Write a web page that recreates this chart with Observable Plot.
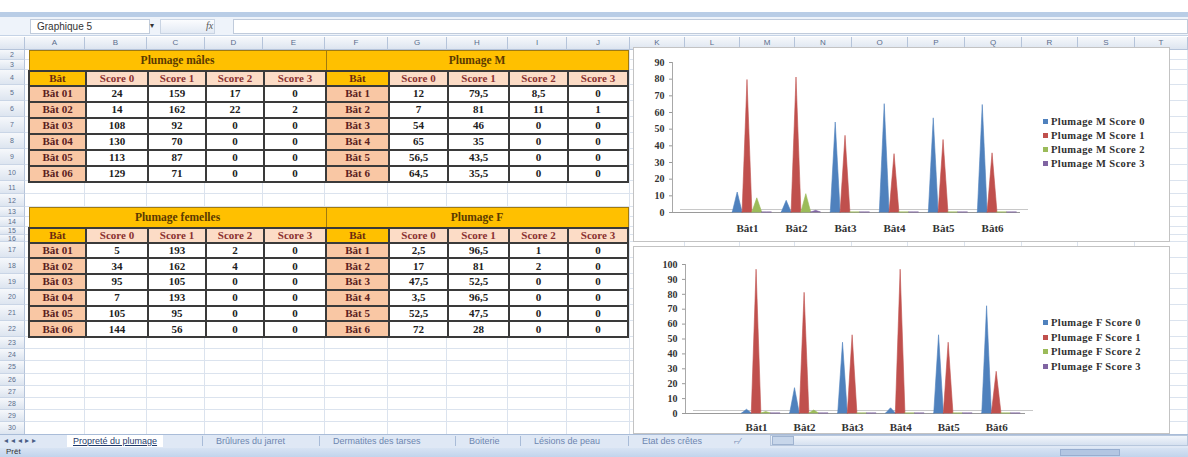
<!DOCTYPE html>
<html><head><meta charset="utf-8">
<script src="https://cdn.jsdelivr.net/npm/d3@7"></script>
<script src="https://cdn.jsdelivr.net/npm/@observablehq/plot@0.6"></script>
<style>
body{margin:0;width:1188px;height:457px;overflow:hidden;position:relative;background:#fff;font-family:"Liberation Sans",Arial,sans-serif;}
.a{position:absolute;box-sizing:border-box;}
.hdr{background:linear-gradient(#f6f8fb,#dde5f0);color:#5a6d8c;font-size:8px;text-align:center;}
table.t{position:absolute;border-collapse:collapse;table-layout:fixed;font-family:"Liberation Serif","Times New Roman",serif;font-weight:bold;font-size:11px;}
table.t td{border:2px solid #3a3a3a;text-align:center;padding:0;overflow:hidden;white-space:nowrap;line-height:11px;}
table.t td.ti{background:#FFC000;color:#5b3a00;border:1px solid #a07a10;font-size:11.5px;}
table.t td.hb{background:#FFC000;color:#6b2a10;}
table.t td.hs{background:#FCDCC6;color:#8a3030;}
table.t td.rb{background:#F9C7A4;color:#5a2020;}
table.t td.v{background:#fff;color:#202020;}
.lg{position:absolute;font-family:"Liberation Serif","Times New Roman",serif;font-weight:bold;font-size:10.5px;letter-spacing:0.4px;color:#303030;white-space:nowrap;}
.lg i{display:inline-block;width:5px;height:5px;margin-right:3px;vertical-align:1px;}
.tab{position:absolute;top:435px;height:12px;font-size:9px;color:#6d86b0;line-height:12px;white-space:nowrap;}
</style></head><body>
<script>
// ---------- data ----------
const tableTitles = ["Plumage mâles","Plumage M","Plumage femelles","Plumage F"];
const scoreLabels = ["Score 0","Score 1","Score 2","Score 3"];
const batLong = ["Bât 01","Bât 02","Bât 03","Bât 04","Bât 05","Bât 06"];
const batShort = ["Bât 1","Bât 2","Bât 3","Bât 4","Bât 5","Bât 6"];
const chartCats = ["Bât1","Bât2","Bât3","Bât4","Bât5","Bât6"];
const malesScore0 = [24,14,108,130,113,129];
const malesScore1 = [159,162,92,70,87,71];
const malesScore2 = [17,22,0,0,0,0];
const malesScore3 = [0,2,0,0,0,0];
const plumMScore0 = [12,7,54,65,56.5,64.5];
const plumMScore1 = [79.5,81,46,35,43.5,35.5];
const plumMScore2 = [8.5,11,0,0,0,0];
const plumMScore3 = [0,1,0,0,0,0];
const femScore0 = [5,34,95,7,105,144];
const femScore1 = [193,162,105,193,95,56];
const femScore2 = [2,4,0,0,0,0];
const femScore3 = [0,0,0,0,0,0];
const plumFScore0 = [2.5,17,47.5,3.5,52.5,72];
const plumFScore1 = [96.5,81,52.5,96.5,47.5,28];
const plumFScore2 = [1,2,0,0,0,0];
const plumFScore3 = [0,0,0,0,0,0];
const legendM = ["Plumage M Score 0","Plumage M Score 1","Plumage M Score 2","Plumage M Score 3"];
const legendF = ["Plumage F Score 0","Plumage F Score 1","Plumage F Score 2","Plumage F Score 3"];
const yTicksM = [0,10,20,30,40,50,60,70,80,90];
const yTicksF = [0,10,20,30,40,50,60,70,80,90,100];
const colLetters = ["A","B","C","D","E","F","G","H","I","J","K","L","M","N","O","P","Q","R","S","T"];
const sheetTabs = ["Propreté du plumage","Brûlures du jarret","Dermatites des tarses","Boiterie","Lésions de peau","Etat des crêtes"];
const colors = ["#4F81BD","#C0504D","#9BBB59","#8064A2"];

// ---------- helpers ----------
const body = document.body;
function div(cls, style, html){const d=document.createElement("div");d.className=cls;d.setAttribute("style",style);if(html!=null)d.innerHTML=html;body.appendChild(d);return d;}
const fmt = v => String(v).replace(".",",");

// ---------- excel chrome ----------
div("a","left:0;top:12px;width:1188px;height:5px;background:#b9cde6;");
div("a","left:0;top:17px;width:1188px;height:19px;background:#eef3fa;border-bottom:1px solid #c5d3e6;");
div("a","left:30px;top:19px;width:120px;height:15px;background:#fff;border:1px solid #c0cbdb;font-size:10px;color:#333;padding:1px 6px;","Graphique 5");
div("a","left:150px;top:21px;font-size:8px;color:#333;","▾");
div("a","left:160px;top:19px;width:55px;height:15px;background:linear-gradient(#fbfcfe,#e3eaf4);border:1px solid #c9d4e3;");
div("a","left:206px;top:20px;font-size:10px;font-style:italic;color:#555;font-family:'Liberation Serif',serif;","<i>fx</i>");
div("a","left:233px;top:19px;width:955px;height:15px;background:#fff;border:1px solid #c0cbdb;");
// column headers
const colEdges = [25,85,147,205,263,325,388,447,508,567,630,685,740,795,852,908,965,1022,1078,1135,1188];
div("a hdr","left:0;top:37px;width:25px;height:13px;border-right:1px solid #b5c4da;border-bottom:1px solid #b5c4da;");
for(let i=0;i<colEdges.length-1;i++){
  div("a hdr",`left:${colEdges[i]}px;top:37px;width:${colEdges[i+1]-colEdges[i]}px;height:13px;border-right:1px solid #b5c4da;border-bottom:1px solid #b5c4da;line-height:12px;`,colLetters[i]);
}
// rows
const rowDefs = [["2",50,60],["3",60,70],["4",70,85]];
for(let i=0;i<6;i++) rowDefs.push([String(5+i),85+i*16,101+i*16]);
rowDefs.push(["11",181,194],["12",194,207],["13",207,217],["14",217,227],["15",227,235],["16",235,242]);
for(let i=0;i<6;i++) rowDefs.push([String(17+i),242+i*15.83,242+(i+1)*15.83]);
for(let i=0;i<8;i++) rowDefs.push([String(23+i),337+i*12.2,337+(i+1)*12.2]);
for(const [lab,y0,y1] of rowDefs){
  div("a hdr",`left:0;top:${y0}px;width:25px;height:${y1-y0}px;border-right:1px solid #b5c4da;border-bottom:1px solid #c9d5e6;line-height:${y1-y0}px;font-size:7px;`,lab);
  div("a",`left:25px;top:${y1-1}px;width:1163px;height:1px;background:#dbe3ee;`);
}
for(let i=1;i<colEdges.length;i++){
  div("a",`left:${colEdges[i]-1}px;top:50px;width:1px;height:385px;background:#dbe3ee;`);
}

// ---------- tables ----------
function makeTable(left, top, title, rowsLabels, cols, rowH, hdrH, titleH, widths){
  const t=document.createElement("table");t.className="t";
  t.style.left=left+"px";t.style.top=top+"px";
  const tw = widths.reduce((a,b)=>a+b,0); t.style.width=tw+"px";
  const cg=document.createElement("colgroup");
  widths.forEach(w=>{const c=document.createElement("col");c.style.width=w+"px";cg.appendChild(c);});
  t.appendChild(cg);
  let tr=t.insertRow();tr.style.height=titleH+"px";
  let td=tr.insertCell();td.colSpan=5;td.className="ti";td.textContent=title;
  tr=t.insertRow();tr.style.height=hdrH+"px";
  td=tr.insertCell();td.className="hb";td.textContent="Bât";
  scoreLabels.forEach(s=>{const c=tr.insertCell();c.className="hs";c.textContent=s;});
  rowsLabels.forEach((r,i)=>{
    const row=t.insertRow();row.style.height=rowH+"px";
    const c0=row.insertCell();c0.className="rb";c0.textContent=r;
    cols.forEach(col=>{const c=row.insertCell();c.className="v";c.textContent=fmt(col[i]);});
  });
  body.appendChild(t);
}
makeTable(28,50,tableTitles[0],batLong,[malesScore0,malesScore1,malesScore2,malesScore3],16,15,20,[57,62,58,58,62]);
makeTable(325,50,tableTitles[1],batShort,[plumMScore0,plumMScore1,plumMScore2,plumMScore3],16,15,20,[63,59,61,59,60]);
makeTable(28,207,tableTitles[2],batLong,[femScore0,femScore1,femScore2,femScore3],15.8,15,20,[57,62,58,58,62]);
makeTable(325,207,tableTitles[3],batShort,[plumFScore0,plumFScore1,plumFScore2,plumFScore3],15.8,15,20,[63,59,61,59,60]);

// ---------- charts ----------
function spikeRows(series){
  const rows=[];
  series.forEach((vals,s)=>vals.forEach((v,i)=>{
    const c=i+(s-1)*0.2, key=s+"-"+i;
    rows.push({key,s,x:c-0.1,y:0},{key,s,x:c,y:v},{key,s,x:c+0.1,y:0});
  }));
  return rows;
}
function chart(series, ticks, xdom, m, labelDy){
  const ymax = ticks[ticks.length-1];
  return Plot.plot({
    width:400,height:185,marginLeft:m.l,marginRight:m.r,marginTop:m.t,marginBottom:m.b,
    style:{fontFamily:"Liberation Serif, Times New Roman, serif",fontWeight:"bold",fontSize:"10px",color:"#333",background:"transparent",overflow:"visible"},
    x:{domain:xdom,axis:null},
    y:{domain:[0,ymax],axis:null},
    color:{domain:[0,1,2,3],range:colors},
    marks:[
      Plot.ruleY([0],{stroke:"#c8c8c8",dx:8,dy:-3}),
      Plot.ruleY([0],{stroke:"#9a9a9a"}),
      Plot.ruleX([xdom[0]],{stroke:"#a8a8a8"}),
      Plot.axisY({ticks,label:null,tickSize:3,tickPadding:5,stroke:"#999",fontWeight:"bold",fontSize:10,fill:"#333"}),
      Plot.areaY(spikeRows(series),{x:"x",y:"y",z:"key",fill:"s",stroke:"s",strokeWidth:0.6,curve:"linear"}),
      Plot.text(chartCats,{x:(d,i)=>i,y:0,dy:labelDy,text:d=>d,fontSize:11,fontWeight:"bold",fill:"#333",style:"letter-spacing:0.8px"})
    ]
  });
}
// chart frames
div("a","left:633px;top:47px;width:537px;height:195px;border:1px solid #c3c3c3;background:#fff;");
div("a","left:633px;top:246px;width:537px;height:188px;border:1px solid #c3c3c3;background:#fff;");
const c1 = chart([plumMScore0,plumMScore1,plumMScore2,plumMScore3], yTicksM, [-1.53,5.57], {l:39,r:13,t:12,b:23}, 16);
const w1 = div("a","left:633px;top:50px;width:400px;height:185px;"); w1.appendChild(c1);
const c2 = chart([plumFScore0,plumFScore1,plumFScore2,plumFScore3], yTicksF, [-1.48,5.6], {l:52,r:8,t:14,b:22}, 14);
const w2 = div("a","left:633px;top:250px;width:400px;height:185px;"); w2.appendChild(c2);
// legends
legendM.forEach((t,i)=>div("lg",`left:1043px;top:${116+i*14}px;`,`<i style="background:${colors[i]}"></i>${t}`));
legendF.forEach((t,i)=>div("lg",`left:1043px;top:${317+i*14.5}px;`,`<i style="background:${colors[i]}"></i>${t}`));

// ---------- sheet tabs & status ----------
div("a","left:0;top:434px;width:1188px;height:14px;background:#dfe8f5;border-top:1px solid #a9bcd8;");
div("a","left:4px;top:435px;font-size:8px;color:#4a5e85;letter-spacing:3px;line-height:12px;","◂◂◂▸▸");
const tabX = [73,216,333,469,534,642];
sheetTabs.forEach((t,i)=>{
  div("tab",`left:${tabX[i]}px;`+(i===0?"color:#1f3a6b;background:#fff;padding:0 6px;margin-left:-6px;text-decoration:underline;":""),t);
  if(i>0) div("a",`left:${tabX[i]-14}px;top:436px;width:1px;height:10px;background:#a9bcd8;`);
});
div("a","left:734px;top:435px;font-size:9px;color:#7a8fb5;line-height:12px;","⌐⁄");
div("a","left:770px;top:435px;width:418px;height:11px;background:linear-gradient(#f1f5fb,#d6e1f0);border:1px solid #b7c7dd;");
div("a","left:772px;top:436px;width:22px;height:9px;background:#c7d6ea;border:1px solid #9fb3d0;");
div("a","left:0;top:448px;width:1188px;height:9px;background:linear-gradient(#d7e3f3,#c2d4ec);");
div("a","left:6px;top:447px;font-size:8px;color:#333;","Prêt");
div("a","left:1060px;top:449px;width:60px;height:7px;background:#b3c6e2;border:1px solid #98aed0;");
</script>
</body></html>
